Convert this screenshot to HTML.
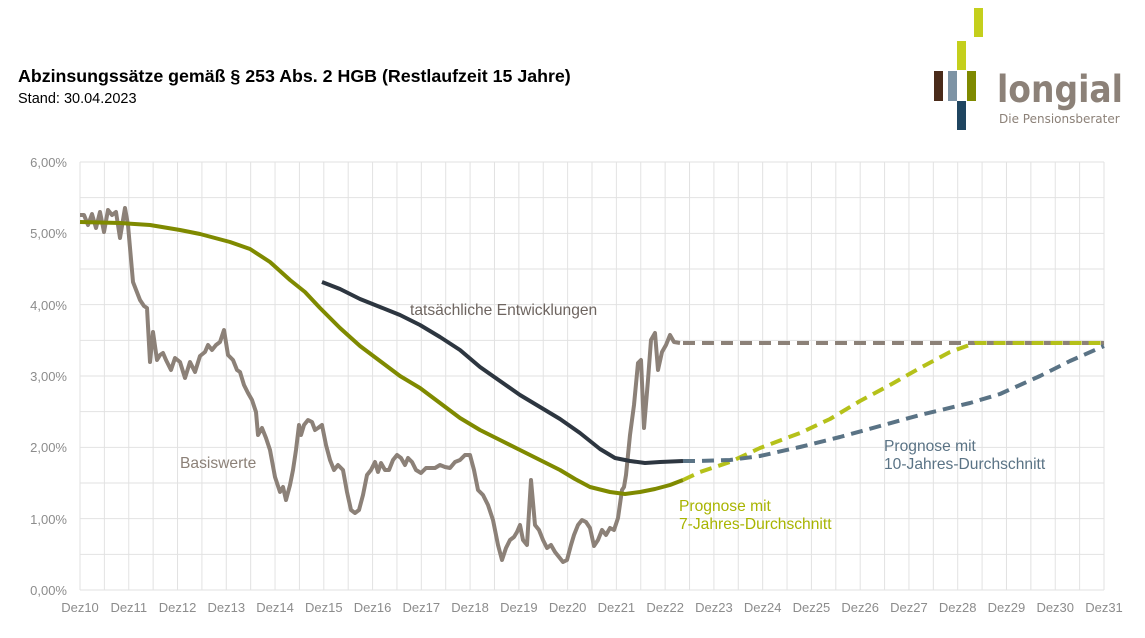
<!DOCTYPE html>
<html><head><meta charset="utf-8"><style>
body{margin:0;background:#fff;width:1145px;height:633px;overflow:hidden;font-family:"Liberation Sans",Arial,sans-serif}
</style></head><body>
<svg width="1145" height="633" viewBox="0 0 1145 633" xmlns="http://www.w3.org/2000/svg" font-family="Liberation Sans, Arial, sans-serif">
<text x="18" y="82" font-size="17.8" font-weight="bold" fill="#000">Abzinsungssätze gemäß § 253 Abs. 2 HGB (Restlaufzeit 15 Jahre)</text>
<text x="18" y="103" font-size="14.5" fill="#000">Stand: 30.04.2023</text>
<!-- logo -->
<rect x="974" y="8" width="9" height="29" fill="#c4cf1c"/>
<rect x="957" y="41" width="9" height="29" fill="#c4cf1c"/>
<rect x="934" y="71" width="9" height="30" fill="#4a2b1a"/>
<rect x="948" y="71" width="9" height="30" fill="#7d93a5"/>
<rect x="967" y="71" width="9" height="30" fill="#7f8a00"/>
<rect x="957" y="101" width="9" height="29" fill="#1f4560"/>
<text x="997" y="102" font-size="37" fill="#8c8178" font-family="DejaVu Sans, sans-serif" font-weight="bold" textLength="126" lengthAdjust="spacingAndGlyphs">longial</text>
<text x="999" y="123" font-size="12" fill="#8c8178" font-family="DejaVu Sans, sans-serif">Die Pensionsberater</text>
<g id="grid" stroke="#e2e2e2" stroke-width="1"></g>
<g font-size="13" fill="#8c8c8c" text-anchor="end">
<text x="67" y="167">6,00%</text><text x="67" y="238">5,00%</text><text x="67" y="310">4,00%</text>
<text x="67" y="381">3,00%</text><text x="67" y="452">2,00%</text><text x="67" y="524">1,00%</text><text x="67" y="595">0,00%</text>
</g>
<g id="xl" font-size="13" fill="#8c8c8c" text-anchor="middle"></g>
<g fill="none" stroke-linejoin="round" stroke-linecap="butt">
<polyline stroke="#8c8178" stroke-width="4" points="80,215 84,215 88,225 92,214 96,228 100,212 104,232 108,210 112,215 116,212 120,238 125,208 128,225 133,282 140,300 144,306 147,308 150,362 153,332 157,360 160,355 163,353 166,360 171,370 175,358 180,362 185,378 190,362 195,372 200,356 205,352 208,345 212,350 216,345 220,342 224,330 228,355 233,360 237,370 240,372 244,385 248,393 252,400 256,412 258,435 262,428 266,438 270,450 275,477 280,492 283,487 286,500 290,485 293,470 296,450 299,425 301,435 304,425 308,420 312,422 315,430 318,428 322,425 326,445 330,460 334,470 338,465 343,470 347,492 351,510 355,513 359,510 363,495 367,475 371,470 375,462 378,472 381,463 385,470 389,470 393,460 397,455 401,458 405,465 408,458 412,462 416,470 421,473 426,468 430,468 435,468 440,465 445,467 450,468 455,462 460,460 465,455 470,455 474,470 478,490 483,495 488,505 493,520 498,545 502,560 506,548 510,540 514,537 517,532 520,525 523,540 527,545 531,480 535,525 539,530 543,540 547,548 551,545 555,552 559,557 563,562 567,560 571,545 574,535 578,525 582,520 586,522 590,528 594,546 598,540 602,530 606,535 610,528 614,530 618,518 622,490 624,487 626,475 630,435 634,405 638,363 641,360 644,428 648,380 651,340 655,333 658,370 662,352 666,345 670,335 674,342 680,343"/>
<line x1="683" y1="343" x2="1104" y2="343" stroke="#8c8178" stroke-width="4" stroke-dasharray="12,7"/>
<polyline stroke="#7f8a00" stroke-width="4" points="80,222 120,223 150,225 180,230 200,234 230,242 250,249 270,262 290,280 305,292 320,308 340,328 360,346 380,361 400,376 420,388 440,403 460,418 480,430 500,440 520,450 540,460 560,470 575,479 590,487 610,492 625,494 640,492 655,489 670,485 683,480"/>
<polyline stroke="#b5c11a" stroke-width="4" stroke-dasharray="12,7" points="683,480 700,472 730,462 760,448 800,433 830,419 860,401 890,385 920,368 950,352 975,343 1104,343"/>
<polyline stroke="#2d3640" stroke-width="4" points="322,282 340,289 360,299 380,307 400,315 420,325 440,337 460,350 480,367 500,381 520,395 540,407 560,419 580,433 600,449 615,458 630,461 645,463 660,462 683,461"/>
<polyline stroke="#5a7385" stroke-width="4" stroke-dasharray="12,7" points="683,461 700,461 730,460 760,456 800,447 840,437 880,426 920,415 970,403 1000,394 1040,376 1070,361 1104,346"/>
</g>
<g font-size="15.6">
<text x="410" y="315" fill="#6e6560">tatsächliche Entwicklungen</text>
<text x="180" y="468" fill="#8c8178">Basiswerte</text>
<text x="679" y="511" fill="#a8b400">Prognose mit</text>
<text x="679" y="529" fill="#a8b400">7-Jahres-Durchschnitt</text>
<text x="884" y="451" fill="#5a7385">Prognose mit</text>
<text x="884" y="469" fill="#5a7385">10-Jahres-Durchschnitt</text>
</g>
<script>
var g=document.getElementById('grid'),xl=document.getElementById('xl'),ns='http://www.w3.org/2000/svg';
for(var i=0;i<=42;i++){var x=80+i*1024/42;var l=document.createElementNS(ns,'line');l.setAttribute('x1',x);l.setAttribute('x2',x);l.setAttribute('y1',162);l.setAttribute('y2',590);g.appendChild(l);}
for(var j=0;j<=12;j++){var y=162+j*428/12;var l=document.createElementNS(ns,'line');l.setAttribute('x1',80);l.setAttribute('x2',1104);l.setAttribute('y1',y);l.setAttribute('y2',y);g.appendChild(l);}
for(var k=0;k<=21;k++){var t=document.createElementNS(ns,'text');t.setAttribute('x',80+k*1024/21);t.setAttribute('y',612);t.textContent='Dez'+(10+k);xl.appendChild(t);}
</script>
</svg>
</body></html>
